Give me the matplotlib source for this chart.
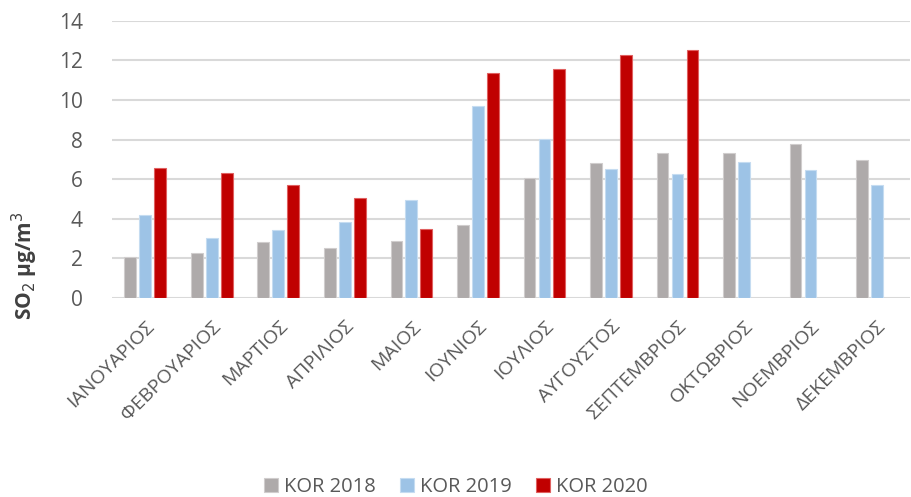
import matplotlib
matplotlib.use("Agg")
import matplotlib.pyplot as plt
import numpy as np
from matplotlib import font_manager

months = ["ΙΑΝΟΥΑΡΙΟΣ", "ΦΕΒΡΟΥΑΡΙΟΣ", "ΜΑΡΤΙΟΣ", "ΑΠΡΙΛΙΟΣ", "ΜΑΙΟΣ", "ΙΟΥΝΙΟΣ",
          "ΙΟΥΛΙΟΣ", "ΑΥΓΟΥΣΤΟΣ", "ΣΕΠΤΕΜΒΡΙΟΣ", "ΟΚΤΩΒΡΙΟΣ", "ΝΟΕΜΒΡΙΟΣ", "ΔΕΚΕΜΒΡΙΟΣ"]
kor_2018 = [2.07, 2.26, 2.80, 2.51, 2.87, 3.66, 6.03, 6.79, 7.31, 7.30, 7.77, 6.96]
kor_2019 = [4.18, 3.02, 3.41, 3.81, 4.92, 9.72, 8.02, 6.49, 6.25, 6.86, 6.45, 5.68]
kor_2020 = [6.54, 6.29, 5.71, 5.04, 3.47, 11.35, 11.56, 12.25, 12.55, np.nan, np.nan, np.nan]
series_names = ["KOR 2018", "KOR 2019", "KOR 2020"]
y_ticks = [0, 2, 4, 6, 8, 10, 12, 14]

colors = ["#AEAAAA", "#9DC3E6", "#C00000"]
edges = ["#D0CDCD", "#C5DCF1", "#E06060"]
text_gray = "#595959"

avail = {f.name for f in font_manager.fontManager.ttflist}
narrow = "Liberation Sans Narrow" if "Liberation Sans Narrow" in avail else "Open Sans"

fig = plt.figure(figsize=(9.12, 4.97), dpi=100)
ax = fig.add_axes([0.1228, 0.401, 0.8752, 0.557])

x = np.arange(len(months))
width = 0.175
offsets = [-0.225, 0, 0.225]
for vals, off, c, ec, name in zip([kor_2018, kor_2019, kor_2020], offsets, colors, edges, series_names):
    ax.bar(x + off, vals, width, color=c, edgecolor=ec, linewidth=0.8, label=name, zorder=3)

ax.set_xlim(-0.5, len(months) - 0.5)
ax.set_ylim(0, 14)
ax.set_yticks(y_ticks)
ax.set_yticklabels([str(t) for t in y_ticks], fontsize=15, color=text_gray, family="Open Sans")
ax.yaxis.grid(True, color="#D9D9D9", linewidth=1.5, zorder=0)
ax.tick_params(axis="both", length=0)
ax.tick_params(axis="y", pad=21)
for s in ax.spines.values():
    s.set_visible(False)

ax.set_xticks(x)
ax.set_xticklabels(months, rotation=45, ha="right", rotation_mode="anchor",
                   fontsize=14, color=text_gray, family="Open Sans")
ax.tick_params(axis="x", pad=14)

fig.text(25 / 912, 1 - 266 / 497, "SO$_2$ μg/m$^3$", rotation=90, ha="center", va="center",
         fontsize=15, fontweight="bold", color="#404040", family="Open Sans")

handles, labels = ax.get_legend_handles_labels()
fig.legend(handles, labels, loc="center", bbox_to_anchor=(0.5, 0.02), ncol=3, frameon=False,
           prop={"family": narrow, "size": 14.5}, handlelength=0.7, handleheight=0.7,
           handletextpad=0.3, columnspacing=1.2, labelcolor=text_gray)

fig.savefig("out.png", dpi=100, facecolor="white")
